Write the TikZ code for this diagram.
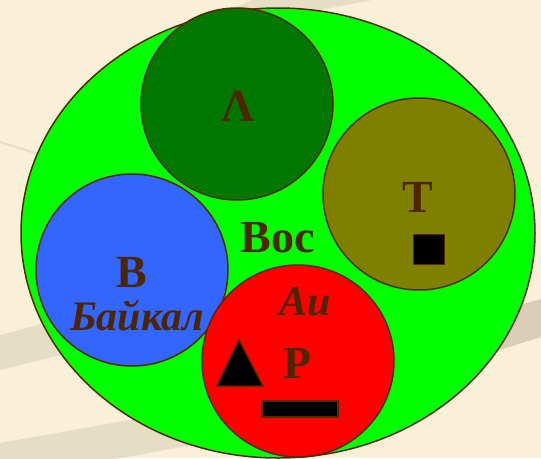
\documentclass[tikz,border=0pt]{standalone}
\usepackage{fontspec}
\setmainfont{Liberation Serif}
\usetikzlibrary{shapes.geometric}
\definecolor{bgc}{HTML}{F9F0D7}
\definecolor{bandc}{HTML}{E6DDC5}
\definecolor{bandd}{HTML}{D8CEB8}
\definecolor{edgec}{RGB}{90,40,0}
\definecolor{txtc}{RGB}{77,38,0}
\definecolor{vosc}{HTML}{00FF00}
\definecolor{lamc}{HTML}{007800}
\definecolor{tc}{HTML}{808000}
\definecolor{bc}{HTML}{3366FF}
\definecolor{rc}{HTML}{FF0000}
\tikzset{
  outline/.style={draw=edgec, line width=1.5pt},
  ring/.style={outline, circle, minimum size=192pt, inner sep=0pt},
  lbl/.style={text=txtc, font=\bfseries\fontsize{46}{50}\selectfont, anchor=base, inner sep=0pt},
  ilbl/.style={text=txtc, font=\bfseries\itshape\fontsize{42}{46}\selectfont, anchor=base, inner sep=0pt},
  mark box/.style={outline, fill=black, inner sep=0pt}
}
\begin{document}
\begin{tikzpicture}[x=1pt,y=-1pt]
\useasboundingbox (0,0) rectangle (541,458);
\fill[bgc] (0,0) rectangle (541,458);
% background stripes
\fill[bandc] (0,335) -- (160,293) -- (160,330) -- (0,370) -- cycle;
\fill[bandd] (400,338) -- (541,299) -- (541,337) -- (400,381) -- cycle;
\fill[bandc] (0,443) -- (220,404) -- (220,440) -- (0,480) -- cycle;
\fill[bandc] (252,0) -- (372,0) -- (290,16) -- (215,16) -- cycle;
\draw[bandc, line width=2pt] (0,142) -- (45,156);
% big ellipse
\node[outline, ellipse, fill=vosc, minimum width=514pt, minimum height=450pt, inner sep=0pt] (voc) at (278,233) {};
% circles
\node[ring, fill=lamc] (lam) at (237,104) {};
\node[ring, fill=tc] (tcirc) at (419,194) {};
\node[ring, fill=bc] (bcirc) at (132,270) {};
\node[ring, fill=rc] (rcirc) at (298,361) {};
% marks
\node[mark box, minimum width=31pt, minimum height=30pt] (sq) at (429,249.5) {};
\node[mark box, minimum width=76pt, minimum height=16pt] (bar) at (300,409) {};
\coordinate (ta) at (239,340);
\coordinate (tb) at (217,386);
\coordinate (tcn) at (263,386);
\draw[outline, fill=black, line join=miter] (ta) -- (tb) -- (tcn) -- cycle;
% labels
\node[lbl] (l1) at (238,121) {Λ};
\node[lbl] (l2) at (418,212) {Т};
\node[lbl] (l3) at (278,252) {Вос};
\node[lbl] (l4) at (132,287) {В};
\node[ilbl] (l5) at (137,330) {Байкал};
\node[ilbl] (l6) at (305,315) {Au};
\node[lbl] (l7) at (298,378) {Р};
\end{tikzpicture}
\end{document}
